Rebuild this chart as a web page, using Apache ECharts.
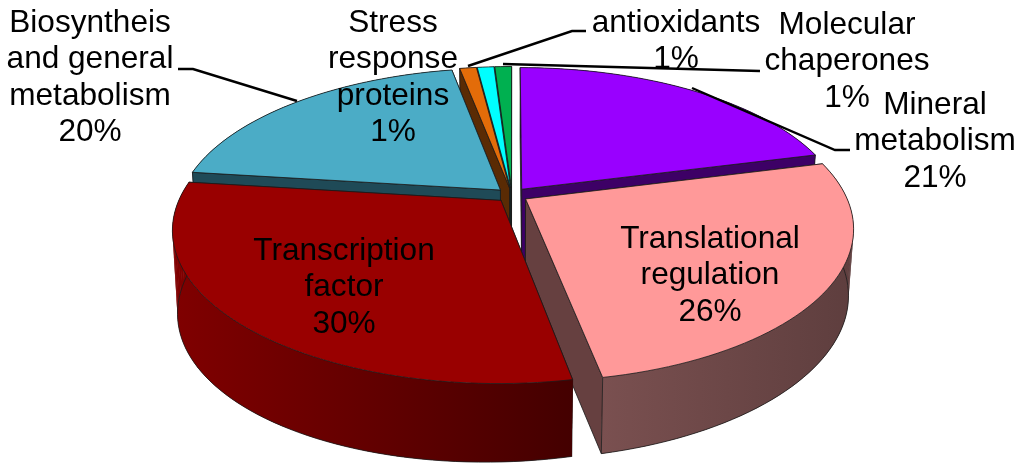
<!DOCTYPE html>
<html><head><meta charset="utf-8"><style>html,body{margin:0;padding:0;background:#fff}#c{width:1024px;height:469px}</style>
<script src="https://cdn.jsdelivr.net/npm/echarts@6/dist/echarts.min.js"></script></head>
<body><div id="c"></div>
<script>
// Data, clockwise from 12 o'clock
var categories = ['Mineral metabolism','Translational regulation','Transcription factor','Biosyntheis and general metabolism','Stress response proteins','antioxidants','Molecular chaperones'];
var values = [21,26,30,20,1,1,1];
var labelLines = [['Mineral','metabolism','21%'],['Translational','regulation','26%'],['Transcription','factor','30%'],['Biosyntheis','and general','metabolism','20%'],['Stress','response','proteins','1%'],['antioxidants','1%'],['Molecular','chaperones','1%']];
// Styles / layout
var topColors = ['#9900FF','#FF9999','#990000','#4BACC6','#E36C09','#00FFFF','#00B050'];
var cutColors = ['#3D0066','#664040','#3D0000','#1F4A57','#5A2B04','#006666','#004620'];
var wallFrom  = ['#3D0066','#7A5050','#800000','#1F4A57','#5A2B04','#006666','#004620'];
var wallTo    = ['#3D0066','#5E3E3E','#440000','#1F4A57','#5A2B04','#006666','#004620'];
var paintOrder = [6,5,4,3,0,1,2];
var labelAnchors = [[935,105],[710,239],[344,251],[90,23],[393,23],[676,23],[847,25]];
var leaders = [[[692,88],[835,150],[850,150]],[[297,101],[193,69],[178,69]],[[468,66],[572,31],[586,31]],[[503,64],[760,71]]];
var G = {cx:512, cy:195, R:320, Ry:146.5, k:0.188, explode:0.05, depth:74, lineH:36.5, fontSize:31.6};

var total = values.reduce(function(a,b){return a+b;},0);
function proj(u,v,low){
  var s = 1/(1+G.k*v), x = G.cx+G.R*u*s, y = G.cy-G.Ry*v*s;
  if(low){ x = G.cx+(x-G.cx)*0.985; y += G.depth-4*v-8*u; }
  return [x,y];
}
function geom(i){
  var start=0; for(var j=0;j<i;j++) start+=values[j];
  var a0=start/total*2*Math.PI, a1=(start+values[i])/total*2*Math.PI, m=(a0+a1)/2;
  return {a0:a0,a1:a1,ou:G.explode*Math.sin(m),ov:G.explode*Math.cos(m)};
}
function arc(g,low){
  var pts=[],n=Math.max(2,Math.ceil((g.a1-g.a0)/0.03));
  for(var t=0;t<=n;t++){var a=g.a0+(g.a1-g.a0)*t/n;pts.push(proj(g.ou+Math.sin(a),g.ov+Math.cos(a),low));}
  return pts;
}
var edge={stroke:'#1a1a1a',lineWidth:0.8,lineJoin:'round'};
function poly(points,fill,z2){
  return {type:'polygon',z2:z2,shape:{points:points},style:Object.assign({fill:fill},edge)};
}
function renderItem(params,api){
  var i=api.value(0), g=geom(i), base=paintOrder.indexOf(i)*10;
  var top=arc(g,false), low=arc(g,true), last=top.length-1;
  var at=proj(g.ou,g.ov,false), al=proj(g.ou,g.ov,true);
  var kids=[];
  var xs=top.concat(low).map(function(p){return p[0];});
  var x0=Math.min.apply(null,xs), x1=Math.max.apply(null,xs);
  var grad=new echarts.graphic.LinearGradient(x0,0,x1,0,[{offset:0,color:wallFrom[i]},{offset:1,color:wallTo[i]}],true);
  // a cut face shows only when the lower edge falls outside the top face
  var startShows=top[0][0]-at[0]<0, endShows=top[last][0]-at[0]>0;
  kids.push(poly([at,top[0],low[0],al],cutColors[i],base+(startShows?5:1)));
  kids.push(poly([at,top[last],low[last],al],cutColors[i],base+(endShows?5:1)));
  kids.push({type:'polygon',z2:base+2,shape:{points:top.concat(low.slice().reverse())},style:{fill:grad}});
  for(var j=0;j<last;j++){
    kids.push({type:'polygon',z2:base+3,shape:{points:[top[j],top[j+1],low[j+1],low[j]]},style:{fill:grad}});
  }
  kids.push({type:'polyline',z2:base+4,shape:{points:low},style:{fill:null,stroke:'#1a1a1a',lineWidth:0.8}});
  kids.push(poly([at].concat(top),topColors[i],base+6));
  return {type:'group',children:kids};
}
var labelEls=[];
labelLines.forEach(function(lines,i){
  lines.forEach(function(t,j){
    labelEls.push({type:'text',z:200,style:{text:t,x:labelAnchors[i][0],y:labelAnchors[i][1]+j*G.lineH,align:'center',verticalAlign:'middle',font:G.fontSize+'px "Liberation Sans"',fill:'#000'}});
  });
});
leaders.forEach(function(p){
  labelEls.push({type:'polyline',z:150,shape:{points:p},style:{stroke:'#000',lineWidth:2.4,fill:null}});
});
var chart=echarts.init(document.getElementById('c'),null,{renderer:'canvas'});
chart.setOption({animation:false,backgroundColor:'#fff',
  series:[{type:'custom',coordinateSystem:'none',renderItem:renderItem,silent:true,
    data:values.map(function(v,i){return {name:categories[i],value:[i,v]};})}],
  graphic:{elements:labelEls}});
</script></body></html>
